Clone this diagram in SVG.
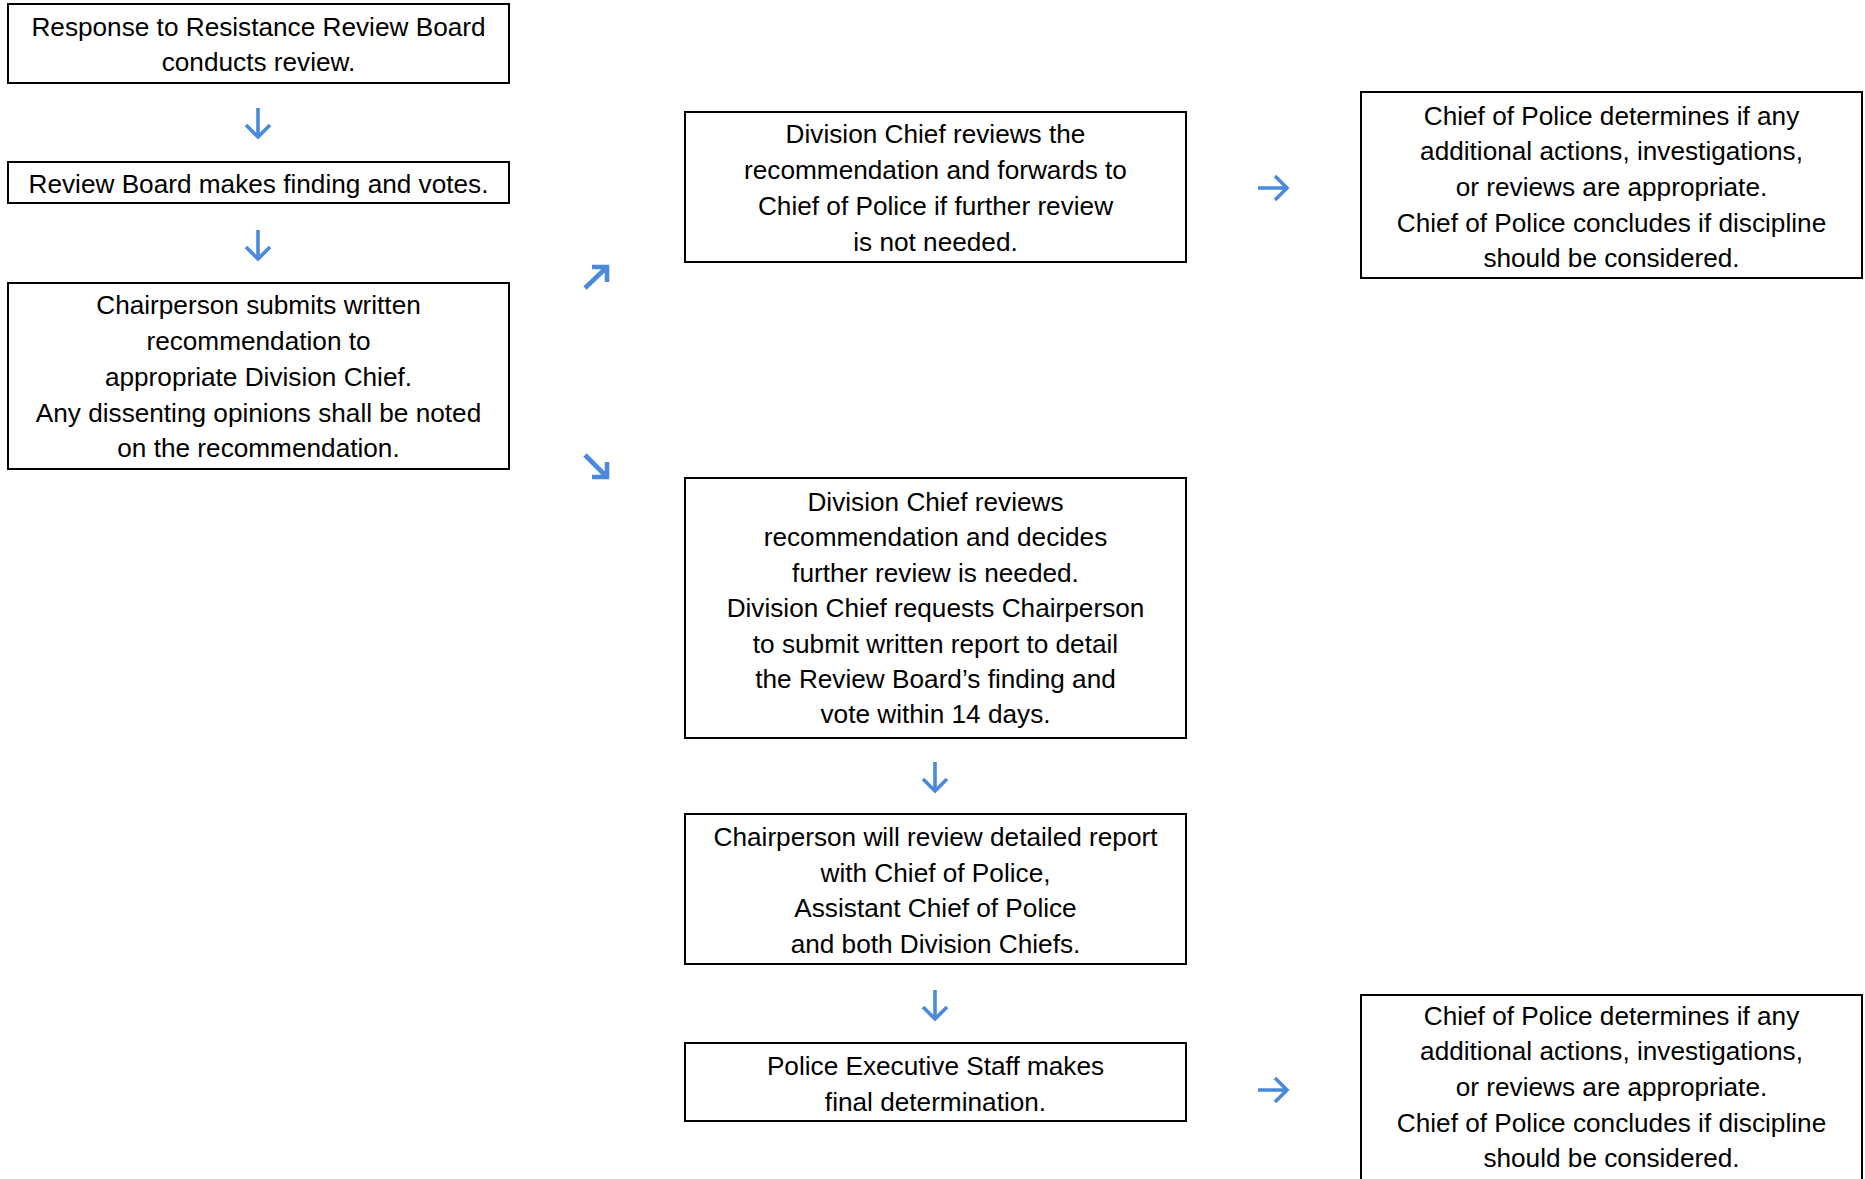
<svg xmlns="http://www.w3.org/2000/svg" width="1865" height="1179" viewBox="0 0 1865 1179">
<style>
  .box { fill: #ffffff; stroke: #000000; stroke-width: 2; }
  .t { font-family: "Liberation Sans", Arial, sans-serif; font-size: 26.2px; fill: #000000; text-anchor: middle; }
  .arr { fill: none; stroke: #4a89dc; stroke-width: 3.6; stroke-linecap: butt; stroke-linejoin: miter; }
  .diag { stroke-width: 4.6; }
</style>
<rect width="1865" height="1179" fill="#ffffff"/>

<g id="node-conducts-review">
  <rect class="box" x="8" y="4" width="501" height="79"/>
  <text class="t" x="258.5" y="36">Response to Resistance Review Board</text>
  <text class="t" x="258.5" y="71">conducts review.</text>
</g>

<g id="node-finding-votes">
  <rect class="box" x="8" y="162" width="501" height="41"/>
  <text class="t" x="258.5" y="193">Review Board makes finding and votes.</text>
</g>

<g id="node-chair-submits">
  <rect class="box" x="8" y="283" width="501" height="186"/>
  <text class="t" x="258.5" y="314">Chairperson submits written</text>
  <text class="t" x="258.5" y="350">recommendation to</text>
  <text class="t" x="258.5" y="386">appropriate Division Chief.</text>
  <text class="t" x="258.5" y="422">Any dissenting opinions shall be noted</text>
  <text class="t" x="258.5" y="457">on the recommendation.</text>
</g>

<g id="node-div-chief-forwards">
  <rect class="box" x="685" y="112" width="501" height="150"/>
  <text class="t" x="935.5" y="143">Division Chief reviews the</text>
  <text class="t" x="935.5" y="179">recommendation and forwards to</text>
  <text class="t" x="935.5" y="215">Chief of Police if further review</text>
  <text class="t" x="935.5" y="250.5">is not needed.</text>
</g>

<g id="node-chief-determines-top">
  <rect class="box" x="1361" y="92" width="501" height="186"/>
  <text class="t" x="1611.5" y="125">Chief of Police determines if any</text>
  <text class="t" x="1611.5" y="160">additional actions, investigations,</text>
  <text class="t" x="1611.5" y="196">or reviews are appropriate.</text>
  <text class="t" x="1611.5" y="231.5">Chief of Police concludes if discipline</text>
  <text class="t" x="1611.5" y="266.5">should be considered.</text>
</g>

<g id="node-div-chief-further">
  <rect class="box" x="685" y="478" width="501" height="260"/>
  <text class="t" x="935.5" y="510.5">Division Chief reviews</text>
  <text class="t" x="935.5" y="546">recommendation and decides</text>
  <text class="t" x="935.5" y="581.5">further review is needed.</text>
  <text class="t" x="935.5" y="616.5">Division Chief requests Chairperson</text>
  <text class="t" x="935.5" y="652.5">to submit written report to detail</text>
  <text class="t" x="935.5" y="688">the Review Board’s finding and</text>
  <text class="t" x="935.5" y="723">vote within 14 days.</text>
</g>

<g id="node-chair-review-report">
  <rect class="box" x="685" y="814" width="501" height="150"/>
  <text class="t" x="935.5" y="846">Chairperson will review detailed report</text>
  <text class="t" x="935.5" y="881.5">with Chief of Police,</text>
  <text class="t" x="935.5" y="917">Assistant Chief of Police</text>
  <text class="t" x="935.5" y="953">and both Division Chiefs.</text>
</g>

<g id="node-exec-staff">
  <rect class="box" x="685" y="1043" width="501" height="78"/>
  <text class="t" x="935.5" y="1075">Police Executive Staff makes</text>
  <text class="t" x="935.5" y="1110.5">final determination.</text>
</g>

<g id="node-chief-determines-bottom">
  <rect class="box" x="1361" y="995" width="501" height="250"/>
  <text class="t" x="1611.5" y="1025">Chief of Police determines if any</text>
  <text class="t" x="1611.5" y="1060">additional actions, investigations,</text>
  <text class="t" x="1611.5" y="1096">or reviews are appropriate.</text>
  <text class="t" x="1611.5" y="1131.5">Chief of Police concludes if discipline</text>
  <text class="t" x="1611.5" y="1166.5">should be considered.</text>
</g>

<g id="connectors">
  <path class="arr" d="M258,108 V136 M246,125 L258,137 L270,125"/>
  <path class="arr" d="M258,230 V258 M246,247 L258,259 L270,247"/>
  <path class="arr diag" d="M585,288 L605,269 M592,267 H607 V282"/>
  <path class="arr diag" d="M585,455 L605,475 M607,462 V477 H592"/>
  <path class="arr" d="M1258,188 H1286 M1275,176 L1287,188 L1275,200"/>
  <path class="arr" d="M935,762 V790 M923,779 L935,791 L947,779"/>
  <path class="arr" d="M935,990 V1018 M923,1007 L935,1019 L947,1007"/>
  <path class="arr" d="M1258,1090 H1286 M1275,1078 L1287,1090 L1275,1102"/>
</g>
</svg>
